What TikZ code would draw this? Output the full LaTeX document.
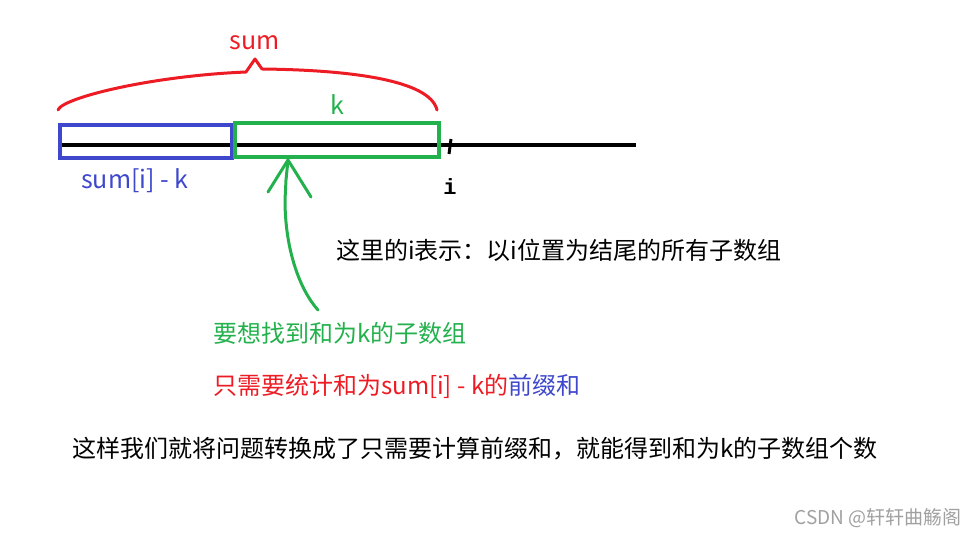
\documentclass[tikz,border=0pt]{standalone}
\usepackage{fontspec}
\setmainfont{Noto Sans CJK SC}
\newfontfamily\monofont{Liberation Mono}
\definecolor{pred}{RGB}{237, 28, 36}
\definecolor{pgreen}{RGB}{34, 177, 76}
\definecolor{pblue}{RGB}{63, 72, 204}
\definecolor{mark}{RGB}{160, 160, 160}

\begin{document}
\begin{tikzpicture}[
   x=1pt, y=-1pt,
   txt/.style={anchor=west, inner sep=0, font=\fontsize{24}{28}\selectfont},
   lbl/.style={inner sep=0, font=\fontsize{25}{28}\selectfont},
   seg/.style={line width=4, line join=miter},
   stroke/.style={line width=3, line cap=round, line join=round}
  ]
  \useasboundingbox (0, 0) rectangle (978, 537);

  % Axis
  \draw[line width=4] (62, 145) -- (636, 145);
  \draw[line width=3] (451, 139) -- (449, 154);

  % Segments
  \draw[seg, pblue] (60, 125) rectangle (232, 158);
  \draw[seg, pgreen] (235, 123) rectangle (439, 157);

  % Brace
  \draw[stroke, pred] (58, 110) .. controls (62, 98) and (150, 76) .. (246, 72)
    -- (255, 59) -- (262, 69)
    .. controls (350, 70) and (430, 80) .. (437, 110);

  \node (S) at (255, 43) [lbl, text=pred] {sum};
  \node (K) at (337, 105) [lbl, text=pgreen] {k};
  \node (P) at (135, 181) [lbl, text=pblue] {sum[i] - k};
  \node (I) at (450, 187) [inner sep=0, font=\monofont\bfseries\fontsize{22}{26}\selectfont] {i};

  % Arrow
  \coordinate (A0) at (318, 310);
  \coordinate (A1) at (288, 160);
  \coordinate (H1) at (268, 192);
  \coordinate (H2) at (311, 197);
  \draw[stroke, pgreen] (A0) .. controls (300, 290) and (285, 250) .. (285, 200)
    -- (286, 180) -- (A1);
  \foreach \E in {H1, H2} {
    \draw[stroke, pgreen] (A1) -- (\E);
  }

  \node (T1) at (336, 250) [txt] {这里的i表示：以i位置为结尾的所有子数组};
  \node (T2) at (213, 333) [txt, text=pgreen] {要想找到和为k的子数组};
  \node (T3) at (213, 386) [txt, text=pred] {只需要统计和为sum[i] - k的\textcolor{pblue}{前缀和}};
  \node (T4) at (72, 449) [txt] {这样我们就将问题转换成了只需要计算前缀和，就能得到和为k的子数组个数};

  \node (W) at (962, 518) [anchor=east, inner sep=0, text=mark,
    font=\fontsize{19}{22}\selectfont] {CSDN @轩轩曲觞阁};

\end{tikzpicture}
\end{document}
